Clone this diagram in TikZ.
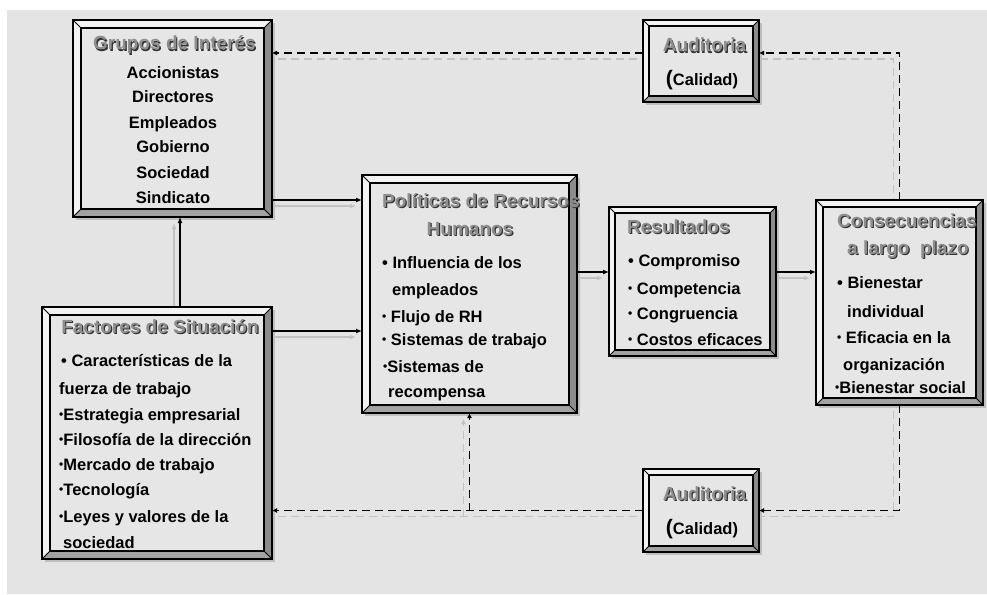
\documentclass[tikz,border=0pt]{standalone}
\usepackage{fontspec}
\setmainfont{Liberation Sans}
\usetikzlibrary{arrows.meta,calc}
\definecolor{bgc}{HTML}{E4E4E4}
\definecolor{boxin}{HTML}{E6E6E6}
\definecolor{bvl}{HTML}{F3F3F3}
\definecolor{bvr}{HTML}{8C8C8C}
\definecolor{bvb}{HTML}{A2A2A2}
\definecolor{ttlc}{HTML}{8E8E8E}
\definecolor{ttls}{HTML}{333333}
\definecolor{shd}{HTML}{C2C2C2}
\definecolor{boxsh}{HTML}{BEBEBE}
\pgfdeclarelayer{back}
\pgfdeclarelayer{shlayer}
\pgfsetlayers{back,shlayer,main}
\tikzset{
 bx/.style={draw=black, line width=1.6pt, fill=boxin, inner sep=0pt, outer sep=0pt, rectangle},
 ttl/.style={font=\fontsize{19}{19}\selectfont\bfseries, text=ttlc, inner sep=0pt},
 ttlsh/.style={font=\fontsize{19}{19}\selectfont\bfseries, text=ttls, inner sep=0pt},
 bt/.style={font=\fontsize{16.5}{16.5}\selectfont\bfseries, text=black, inner sep=0pt},
 arr/.style={line width=1.5pt, -{Latex[length=6pt,width=5pt]}},
 arrsh/.style={line width=1.5pt, draw=shd, -{Latex[length=6pt,width=5pt,fill=shd]}},
 dsh/.style={line width=1.9pt, dash pattern=on 8pt off 5pt, -{Latex[length=5pt,width=5pt]}},
 dshsh/.style={line width=1.6pt, draw=shd, dash pattern=on 8pt off 5pt, -{Latex[length=5pt,width=5pt,fill=shd]}},
 shshift/.style={transform canvas={xshift=-6pt,yshift=-6pt}},
}
\newcommand\smbul{\raisebox{1.6pt}{\fontsize{12}{12}\selectfont•}}
\newcommand\mybevel[2]{%
 \begin{pgfonlayer}{shlayer}
 \fill[boxsh] ([shift={(3,3)}]#1.north west) rectangle ([shift={(3,3)}]#1.south east);
 \end{pgfonlayer}
 \fill[bvl] (#1.north west) -- (#1.north east) -- ([shift={(-#2,#2)}]#1.north east) -- ([shift={(#2,#2)}]#1.north west) -- cycle;
 \fill[bvl] (#1.north west) -- ([shift={(#2,#2)}]#1.north west) -- ([shift={(#2,-#2)}]#1.south west) -- (#1.south west) -- cycle;
 \fill[bvr] (#1.north east) -- (#1.south east) -- ([shift={(-#2,-#2)}]#1.south east) -- ([shift={(-#2,#2)}]#1.north east) -- cycle;
 \fill[bvb] (#1.south west) -- (#1.south east) -- ([shift={(-#2,-#2)}]#1.south east) -- ([shift={(#2,-#2)}]#1.south west) -- cycle;
 \draw[line width=1.2pt] ([shift={(#2,#2)}]#1.north west) rectangle ([shift={(-#2,-#2)}]#1.south east);
 \draw[line width=1pt] (#1.north west) -- ([shift={(#2,#2)}]#1.north west)
   (#1.north east) -- ([shift={(-#2,#2)}]#1.north east)
   (#1.south east) -- ([shift={(-#2,-#2)}]#1.south east)
   (#1.south west) -- ([shift={(#2,-#2)}]#1.south west);
 \draw[line width=1.6pt] (#1.north west) rectangle (#1.south east);
}
\newcommand\ttlnode[5]{%
 \node[ttlsh, anchor=#2, xshift=1.2pt, yshift=-1.2pt] (#1s) at (#3,#4) {#5};
 \node[ttl, anchor=#2] (#1) at (#3,#4) {#5};
}
\begin{document}
\begin{tikzpicture}[x=1pt,y=-1pt]
\useasboundingbox (0,0) rectangle (987,594);
\begin{pgfonlayer}{back}
\fill[bgc] (7,10) rectangle (987,594);
\end{pgfonlayer}

% boxes
\node[bx, minimum width=199pt, minimum height=197pt] (g) at (172.5,118.5) {};
\mybevel{g}{8}
\node[bx, minimum width=230pt, minimum height=252pt] (f) at (157,433) {};
\mybevel{f}{8}
\node[bx, minimum width=215pt, minimum height=238pt] (p) at (469.5,294) {};
\mybevel{p}{8}
\node[bx, minimum width=167pt, minimum height=149pt] (r) at (692.5,281.5) {};
\mybevel{r}{6}
\node[bx, minimum width=167pt, minimum height=205pt] (c) at (899.5,302.5) {};
\mybevel{c}{7}
\node[bx, minimum width=116pt, minimum height=82pt] (a1) at (701,61) {};
\mybevel{a1}{6}
\node[bx, minimum width=116pt, minimum height=83pt] (a2) at (701,510.5) {};
\mybevel{a2}{6}

% texts: Grupos
\ttlnode{gt}{base}{174.5}{50}{Grupos de Interés}
\foreach \yy/\tt [count=\i] in {78/Accionistas,102/Directores,128/Empleados,152/Gobierno,178/Sociedad,203/Sindicato}
  \node[bt, anchor=base] (g\i) at (173,\yy) {\tt};

% Factores
\ttlnode{ft}{base}{160}{333}{Factores de Situación}
\foreach \xx/\yy/\tt [count=\i] in {61/366/{• Características de la},59/394/{fuerza de trabajo},59/420/{\smbul Estrategia empresarial},59/445/{\smbul Filosofía de la dirección},59/470/{\smbul Mercado de trabajo},59/495/{\smbul Tecnología},59/522/{\smbul Leyes y valores de la},63/548/{sociedad}}
  \node[bt, anchor=base west] (f\i) at (\xx,\yy) {\tt};

% Politicas
\ttlnode{pt}{base west}{382}{207}{Políticas de Recursos}
\ttlnode{ptb}{base}{470}{235}{Humanos}
\foreach \xx/\yy/\tt [count=\i] in {382/268/{• Influencia de los},392/295/{empleados},382/322/{\smbul\ Flujo de RH},382/345/{\smbul\ Sistemas de trabajo},383/372/{\smbul Sistemas de},388/397/{recompensa}}
  \node[bt, anchor=base west] (p\i) at (\xx,\yy) {\tt};

% Resultados
\ttlnode{rt}{base west}{627}{233}{Resultados}
\foreach \xx/\yy/\tt [count=\i] in {628/266/{• Compromiso},628/294/{\smbul\ Competencia},628/319/{\smbul\ Congruencia},628/345/{\smbul\ Costos eficaces}}
  \node[bt, anchor=base west] (r\i) at (\xx,\yy) {\tt};

% Consecuencias
\ttlnode{ct}{base west}{837}{227}{Consecuencias}
\ttlnode{ctb}{base west}{847}{254}{a largo\ \ plazo}
\foreach \xx/\yy/\tt [count=\i] in {837/288/{• Bienestar},847/317/{individual},837/343/{\smbul\ Eficacia en la},843/370/{organización},835/393/{\smbul Bienestar social}}
  \node[bt, anchor=base west] (c\i) at (\xx,\yy) {\tt};

% Auditoria
\ttlnode{at1}{base}{704.5}{52}{Auditoria}
\node[bt, anchor=base] (aq1) at (702,85) {{\fontsize{21}{21}\selectfont(}Calidad)};
\ttlnode{at2}{base}{704.5}{500}{Auditoria}
\node[bt, anchor=base] (aq2) at (702,534) {{\fontsize{21}{21}\selectfont(}Calidad)};

% solid connectors
\draw[arr] ([yshift=-81.5pt]g.east) coordinate (s1) -- (s1 -| p.west);
\draw[arr] ([yshift=102pt]f.east) coordinate (s2) -- (s2 -| p.west);
\draw[arr] ([xshift=23pt]f.north) coordinate (s3) -- (s3 |- g.south);
\draw[arr] ([yshift=22pt]p.east) coordinate (s4) -- (s4 -| r.west);
\draw[arr] ([yshift=9.5pt]r.east) coordinate (s5) -- (s5 -| c.west);
% dashed connectors
\draw[dsh] (c.north) |- ([yshift=8pt]a1.east) coordinate (t1);
\draw[dsh] ([yshift=8pt]a1.west) coordinate (t2) -- (t2 -| g.east);
\draw[dsh] (c.south) |- (a2.east);
\draw[dsh] (a2.west) -- (a2.west -| f.east);
\draw[dsh] (p.south |- a2.west) -- (p.south);

% shadows of connectors
\begin{pgfonlayer}{shlayer}
\draw[arrsh, shshift] (s1) -- (s1 -| p.west);
\draw[arrsh, shshift] (s2) -- (s2 -| p.west);
\draw[arrsh, shshift] (s3) -- (s3 |- g.south);
\draw[arrsh, shshift] (s4) -- (s4 -| r.west);
\draw[arrsh, shshift] (s5) -- (s5 -| c.west);
\draw[dshsh, shshift] (c.north) |- (t1);
\draw[dshsh, shshift] (t2) -- (t2 -| g.east);
\draw[dshsh, shshift] (c.south) |- (a2.east);
\draw[dshsh, shshift] (a2.west) -- (a2.west -| f.east);
\draw[dshsh, shshift] (p.south |- a2.west) -- (p.south);
\end{pgfonlayer}
\end{tikzpicture}
\end{document}
